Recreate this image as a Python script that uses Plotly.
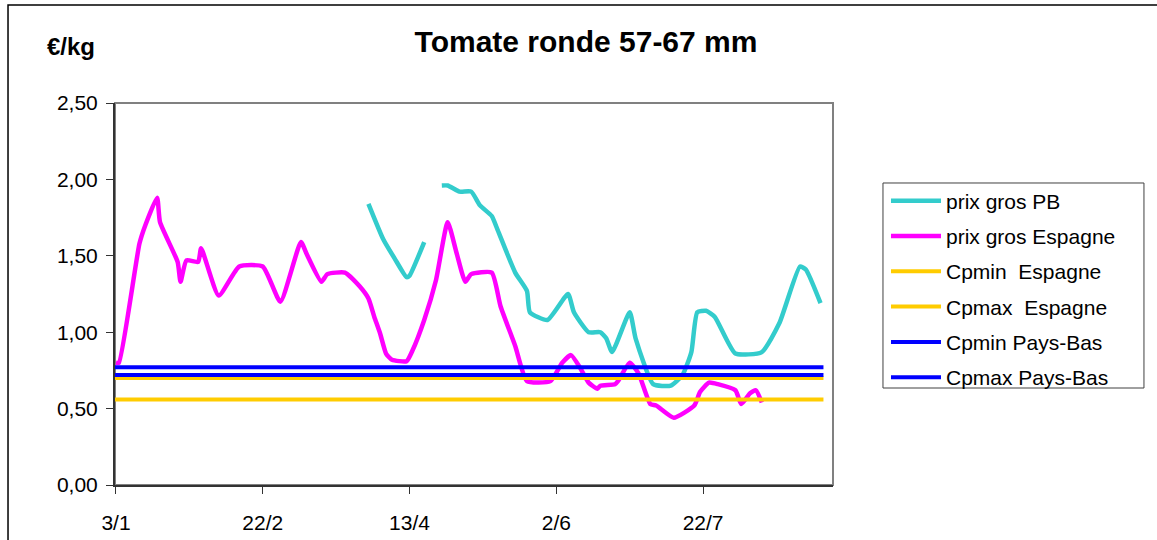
import plotly.graph_objects as go

# Wholesale prices, Spain (€/kg)
esp_dates = [
    "2005-01-03", "2005-01-04", "2005-01-11", "2005-01-13", "2005-01-17", "2005-01-18",
    "2005-01-24", "2005-01-25", "2005-01-27", "2005-01-31", "2005-02-01", "2005-02-07",
    "2005-02-14", "2005-02-22", "2005-02-28", "2005-03-07", "2005-03-09", "2005-03-14",
    "2005-03-16", "2005-03-22", "2005-03-27", "2005-03-30", "2005-04-01", "2005-04-03",
    "2005-04-05", "2005-04-07", "2005-04-12", "2005-04-14", "2005-04-18", "2005-04-22",
    "2005-04-26", "2005-04-29", "2005-05-02", "2005-05-04", "2005-05-11", "2005-05-14",
    "2005-05-19", "2005-05-23", "2005-05-31", "2005-06-04", "2005-06-07", "2005-06-10",
    "2005-06-13", "2005-06-16", "2005-06-17", "2005-06-22", "2005-06-23", "2005-06-27",
    "2005-06-30", "2005-07-04", "2005-07-06", "2005-07-12", "2005-07-19", "2005-07-21",
    "2005-07-24", "2005-07-27", "2005-08-02", "2005-08-04", "2005-08-07", "2005-08-09",
    "2005-08-11",
]
esp_prices = [
    0.80, 0.80, 1.58, 1.70, 1.88, 1.72,
    1.46, 1.33, 1.47, 1.46, 1.55, 1.24,
    1.43, 1.43, 1.20, 1.59, 1.51, 1.33,
    1.38, 1.39, 1.30, 1.22, 1.10, 0.99,
    0.86, 0.82, 0.81, 0.88, 1.08, 1.34,
    1.72, 1.52, 1.33, 1.38, 1.39, 1.17,
    0.91, 0.68, 0.68, 0.80, 0.85, 0.77,
    0.67, 0.63, 0.65, 0.66, 0.68, 0.80,
    0.73, 0.53, 0.52, 0.44, 0.52, 0.61,
    0.67, 0.66, 0.62, 0.53, 0.60, 0.62,
    0.54,
]

# Wholesale prices, Netherlands (€/kg); None marks the gap in the series
pb_dates = [
    "2005-03-30", "2005-04-04", "2005-04-08", "2005-04-12", "2005-04-13", "2005-04-18",
    "2005-04-21",
    "2005-04-24", "2005-04-26", "2005-04-30", "2005-05-04", "2005-05-07", "2005-05-11",
    "2005-05-13", "2005-05-19", "2005-05-23", "2005-05-24", "2005-05-30", "2005-06-06",
    "2005-06-08", "2005-06-13", "2005-06-17", "2005-06-19", "2005-06-21", "2005-06-27",
    "2005-06-29", "2005-07-05", "2005-07-11", "2005-07-15", "2005-07-18", "2005-07-20",
    "2005-07-23", "2005-07-26", "2005-08-02", "2005-08-11", "2005-08-17", "2005-08-24",
    "2005-08-26", "2005-08-31",
]
pb_prices = [
    1.84, 1.61, 1.48, 1.36, 1.37, 1.59,
    None,
    1.96, 1.96, 1.92, 1.92, 1.83, 1.76,
    1.67, 1.39, 1.27, 1.13, 1.08, 1.25,
    1.13, 1.00, 1.00, 0.96, 0.87, 1.13,
    0.96, 0.66, 0.65, 0.72, 0.87, 1.13,
    1.14, 1.10, 0.86, 0.87, 1.06, 1.43,
    1.41, 1.19,
]

# Reference price levels drawn across the season
cp_names = ["Cpmin  Espagne", "Cpmax  Espagne", "Cpmin Pays-Bas", "Cpmax Pays-Bas"]
cp_values = [0.56, 0.70, 0.72, 0.77]
cp_colors = ["#FFCC00", "#FFCC00", "#0000FF", "#0000FF"]
cp_span = ["2005-01-02", "2005-09-01"]

# Axis ticks
x_tick_dates = ["2005-01-03", "2005-02-22", "2005-04-13", "2005-06-02", "2005-07-22"]
x_tick_labels = ["3/1", "22/2", "13/4", "2/6", "22/7"]
y_tick_values = [0.0, 0.5, 1.0, 1.5, 2.0, 2.5]

FONT = "Liberation Sans, Arial, sans-serif"

fig = go.Figure()

fig.add_trace(go.Scatter(
    x=pb_dates, y=pb_prices, name="prix gros PB", mode="lines",
    line=dict(color="#33CCCC", width=4.5, shape="spline", smoothing=0.5),
    connectgaps=False, legendgroup="g1",
))
fig.add_trace(go.Scatter(
    x=esp_dates, y=esp_prices, name="prix gros Espagne", mode="lines",
    line=dict(color="#FF00FF", width=4.5, shape="spline", smoothing=0.5),
    legendgroup="g2",
))
for i, (name, val, col) in enumerate(zip(cp_names, cp_values, cp_colors)):
    fig.add_trace(go.Scatter(
        x=cp_span, y=[val, val], name=name, mode="lines",
        line=dict(color=col, width=4), legendgroup=f"g{i + 3}",
    ))

# Plot-area frame, legend frame and outer chart frame
fig.add_shape(type="rect", xref="paper", yref="paper", x0=0, x1=1, y0=0, y1=1,
              line=dict(color="#808080", width=2), layer="below")
fig.add_shape(type="rect", xref="paper", yref="paper",
              x0=1.0696, x1=1.4331, y0=0.2539, y1=0.7906,
              line=dict(color="#404040", width=1), layer="below")
fig.add_shape(type="rect", xref="paper", yref="paper",
              x0=-0.149, x1=1.7, y0=-0.4, y1=1.2565,
              line=dict(color="#000000", width=1.5), layer="below")

fig.add_annotation(text="<b>€/kg</b>", xref="paper", yref="paper",
                   x=-0.0975, y=1.149, xanchor="left", yanchor="middle",
                   showarrow=False, font=dict(family=FONT, size=24, color="#000"))

fig.update_layout(
    width=1157, height=540,
    margin=dict(l=115, r=324, t=103, b=55, autoexpand=False),
    paper_bgcolor="white", plot_bgcolor="white",
    separators=", ",
    title=dict(text="<b>Tomate ronde 57-67 mm</b>", xref="container", yref="container",
               x=586 / 1157, y=1 - 41 / 540, xanchor="center", yanchor="middle",
               font=dict(family=FONT, size=30, color="#000")),
    font=dict(family=FONT, size=20, color="#000"),
    showlegend=True,
    legend=dict(x=1.0738, y=0.797, xanchor="left", yanchor="top",
                borderwidth=0, bgcolor="rgba(0,0,0,0)", itemwidth=50,
                font=dict(family=FONT, size=21, color="#000"),
                tracegroupgap=5, traceorder="grouped"),
    xaxis=dict(type="date", range=["2005-01-02 16:00", "2005-09-04 06:00"],
               tickvals=x_tick_dates, ticktext=x_tick_labels, automargin=False,
               ticks="outside", ticklen=7, tickwidth=1, tickcolor="#333",
               showline=True, linecolor="#333", linewidth=2,
               showgrid=False, zeroline=False, ticklabelstandoff=11,
               tickfont=dict(family=FONT, size=21)),
    yaxis=dict(range=[0, 2.5], tickvals=y_tick_values, tickformat=".2f",
               automargin=False,
               ticks="outside", ticklen=7, tickwidth=1, tickcolor="#333",
               showline=True, linecolor="#333", linewidth=2,
               showgrid=False, zeroline=False, ticklabelstandoff=4,
               tickfont=dict(family=FONT, size=21)),
)

fig.write_html("out.html")
